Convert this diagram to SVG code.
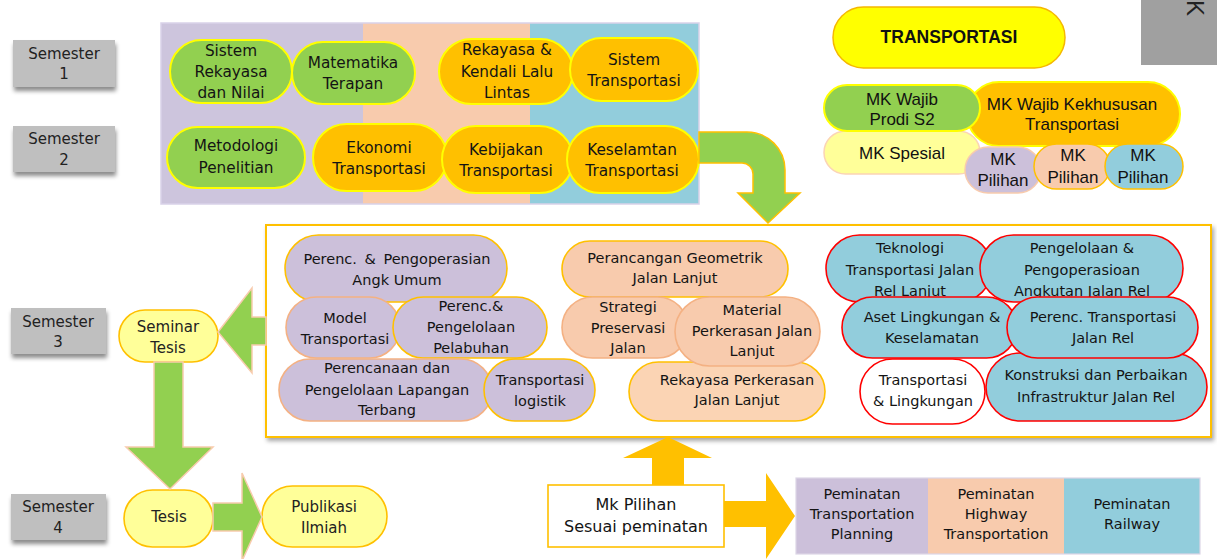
<svg xmlns="http://www.w3.org/2000/svg" width="1217" height="559" viewBox="0 0 1217 559">
<defs>
<style>
.tx{font-family:"DejaVu Sans",Verdana,sans-serif;font-size:14.5px;fill:#141414;text-anchor:middle}
.tt{font-size:15.3px}
.sm{font-family:"DejaVu Sans",Verdana,sans-serif;font-size:15px;fill:#222;text-anchor:middle}
.lg{font-family:"Liberation Sans",Arial,sans-serif;font-size:17px;fill:#111;text-anchor:middle}
.gr{fill:#92d050;stroke:#ffff00;stroke-width:2}
.or{fill:#ffc000;stroke:#ffff00;stroke-width:2}
.pu{fill:#ccc0da}
.pe{fill:#f8cbad}
.bl{fill:#92cddc;stroke:#ff0000;stroke-width:1.6}
.so{stroke:#ffc000;stroke-width:1.6}
.sp{stroke:#f4b183;stroke-width:1.6}
.ly{fill:#ffff99;stroke:#ffc000;stroke-width:1.6}
.sem{fill:#bfbfbf}
.ga{fill:#92d050;stroke:#f8cbad;stroke-width:1.5}
.oa{fill:#ffc000}
</style>
<filter id="sh" x="-10%" y="-10%" width="125%" height="140%"><feDropShadow dx="1" dy="4" stdDeviation="2" flood-color="#000" flood-opacity="0.45"/></filter>
<filter id="sh2" x="-5%" y="-5%" width="110%" height="115%"><feDropShadow dx="2" dy="3" stdDeviation="2" flood-color="#000" flood-opacity="0.35"/></filter>
</defs>
<rect width="1217" height="559" fill="#ffffff"/>

<!-- top right gray box -->
<g id="corner">
<rect x="1141" y="0" width="76" height="65" fill="#a0a0a0"/>
<text transform="translate(1187,0) rotate(90)" style="font-family:'Liberation Sans',Arial,sans-serif;font-size:24px;fill:#222">K</text>
</g>

<!-- semester labels -->
<g id="sem1"><rect class="sem" x="13" y="40" width="102" height="47" filter="url(#sh)"/><text class="sm" x="64" y="59">Semester</text><text class="sm" x="64" y="79">1</text></g>
<g id="sem2"><rect class="sem" x="13" y="126" width="102" height="46" filter="url(#sh)"/><text class="sm" x="64" y="144">Semester</text><text class="sm" x="64" y="165">2</text></g>
<g id="sem3"><rect class="sem" x="11" y="308" width="95" height="46" filter="url(#sh)"/><text class="sm" x="58" y="327">Semester</text><text class="sm" x="58" y="347">3</text></g>
<g id="sem4"><rect class="sem" x="11" y="494" width="95" height="46" filter="url(#sh)"/><text class="sm" x="58" y="512">Semester</text><text class="sm" x="58" y="533">4</text></g>

<!-- top background columns -->
<g id="topbg">
<rect x="161" y="23" width="202" height="181" fill="#cdc5dd"/>
<rect x="363" y="23" width="167" height="181" fill="#f8cbad"/>
<rect x="530" y="23" width="169" height="181" fill="#92cddc"/>
<rect x="161" y="23" width="538" height="181" fill="none" stroke="#d9d2e9" stroke-width="1.5"/>
</g>

<!-- top nodes -->
<g id="n-sistem-rekayasa"><rect class="gr" x="170" y="40" width="122" height="63" rx="31.5"/><text class="tx tt" x="231" y="56">Sistem</text><text class="tx tt" x="231" y="77">Rekayasa</text><text class="tx tt" x="231" y="98">dan Nilai</text></g>
<g id="n-matematika"><rect class="gr" x="292" y="42" width="123" height="62" rx="31"/><text class="tx tt" x="353" y="68">Matematika</text><text class="tx tt" x="353" y="89">Terapan</text></g>
<g id="n-rekayasa-kendali"><rect class="or" x="439" y="39" width="134" height="65" rx="32.5"/><text class="tx tt" x="507" y="55">Rekayasa &amp;</text><text class="tx tt" x="507" y="77">Kendali Lalu</text><text class="tx tt" x="507" y="98">Lintas</text></g>
<g id="n-sistem-transportasi"><rect class="or" x="570" y="38" width="128" height="63" rx="31.5"/><text class="tx tt" x="634" y="65">Sistem</text><text class="tx tt" x="634" y="86">Transportasi</text></g>
<g id="n-metodologi"><rect class="gr" x="167" y="127" width="138" height="61" rx="30.5"/><text class="tx tt" x="236" y="151">Metodologi</text><text class="tx tt" x="236" y="173">Penelitian</text></g>
<g id="n-ekonomi"><rect class="or" x="313" y="124" width="134" height="67" rx="33.5"/><text class="tx tt" x="379" y="153">Ekonomi</text><text class="tx tt" x="379" y="174">Transportasi</text></g>
<g id="n-kebijakan"><rect class="or" x="442" y="126" width="131" height="67" rx="33.5"/><text class="tx tt" x="506" y="155">Kebijakan</text><text class="tx tt" x="506" y="176">Transportasi</text></g>
<g id="n-keselamatan"><rect class="or" x="567" y="126" width="132" height="67" rx="33.5"/><text class="tx tt" x="632" y="155">Keselamtan</text><text class="tx tt" x="632" y="176">Transportasi</text></g>

<!-- legend -->
<g id="legend-transportasi"><rect x="833" y="7" width="232" height="61" rx="30.5" fill="#ffff00" stroke="#f5b800" stroke-width="1.5"/><text x="949" y="43" style="font-family:'Liberation Sans',Arial,sans-serif;font-size:17.5px;font-weight:bold;fill:#111;text-anchor:middle">TRANSPORTASI</text></g>
<g id="legend-kekhususan"><rect class="or" x="967" y="82" width="213" height="64" rx="32"/><text class="lg" x="1072" y="110">MK Wajib Kekhususan</text><text class="lg" x="1072" y="130">Transportasi</text></g>
<g id="legend-spesial"><rect x="824" y="131" width="156" height="43" rx="21.5" fill="#ffff99" stroke="#fbd4b4" stroke-width="1.5"/><text class="lg" x="902" y="159">MK Spesial</text></g>
<g id="legend-prodi"><rect class="gr" x="824" y="85" width="156" height="46" rx="23"/><text class="lg" x="902" y="105">MK Wajib</text><text class="lg" x="902" y="125">Prodi S2</text></g>
<g id="legend-pilihan1"><rect x="965" y="147" width="76" height="46" rx="23" fill="#ccc0da" stroke="#f8cbad" stroke-width="1.5"/><text class="lg" x="1003" y="165">MK</text><text class="lg" x="1003" y="186">Pilihan</text></g>
<g id="legend-pilihan2"><rect x="1034" y="144" width="76" height="45" rx="22.5" fill="#f8cbad" stroke="#ffc000" stroke-width="1.5"/><text class="lg" x="1073" y="161">MK</text><text class="lg" x="1073" y="183">Pilihan</text></g>
<g id="legend-pilihan3"><rect x="1105" y="144" width="78" height="45" rx="22.5" fill="#92cddc" stroke="#ffc000" stroke-width="1.5"/><text class="lg" x="1143" y="161">MK</text><text class="lg" x="1143" y="183">Pilihan</text></g>

<!-- semester 3 box -->
<g id="sem3-box"><rect x="266" y="225" width="945" height="212" fill="#ffffff" stroke="#ffc000" stroke-width="2" filter="url(#sh2)"/></g>

<!-- purple nodes -->
<g id="n-angk-umum"><rect class="pu so" x="285" y="235" width="222" height="67" rx="33.5"/><text class="tx" x="397" y="264" style="word-spacing:3px">Perenc. &amp; Pengoperasian</text><text class="tx" x="397" y="285">Angk Umum</text></g>
<g id="n-model"><rect class="pu sp" x="286" y="297" width="114" height="61" rx="30.5"/><text class="tx" x="345" y="323">Model</text><text class="tx" x="345" y="344">Transportasi</text></g>
<g id="n-pelabuhan"><rect class="pu so" x="393" y="297" width="154" height="61" rx="30.5"/><text class="tx" x="471" y="311">Perenc.&amp;</text><text class="tx" x="471" y="332">Pengelolaan</text><text class="tx" x="471" y="353">Pelabuhan</text></g>
<g id="n-lapangan"><rect class="pu sp" x="279" y="359" width="213" height="62" rx="31"/><text class="tx" x="387" y="373">Perencanaan dan</text><text class="tx" x="387" y="395">Pengelolaan Lapangan</text><text class="tx" x="387" y="415">Terbang</text></g>
<g id="n-logistik"><rect class="pu so" x="484" y="359" width="111" height="62" rx="31"/><text class="tx" x="540" y="385">Transportasi</text><text class="tx" x="540" y="406">logistik</text></g>

<!-- peach nodes -->
<g id="n-geometrik"><rect class="pe so" x="562" y="241" width="226" height="56" rx="28"/><text class="tx" x="675" y="263">Perancangan Geometrik</text><text class="tx" x="675" y="283">Jalan Lanjut</text></g>
<g id="n-strategi"><rect class="pe sp" x="562" y="297" width="126" height="61" rx="30.5"/><text class="tx" x="628" y="312">Strategi</text><text class="tx" x="628" y="333">Preservasi</text><text class="tx" x="628" y="353">Jalan</text></g>
<g id="n-rekayasa-perkerasan"><rect x="629" y="362" width="196" height="59" rx="29.5" fill="#fbd4b4" class="so"/><text class="tx" x="737" y="385">Rekayasa Perkerasan</text><text class="tx" x="737" y="405">Jalan Lanjut</text></g>
<g id="n-material"><rect class="pe sp" x="675" y="297" width="145" height="69" rx="34.5"/><text class="tx" x="752" y="315">Material</text><text class="tx" x="752" y="336">Perkerasan Jalan</text><text class="tx" x="752" y="356">Lanjut</text></g>

<!-- blue nodes -->
<g id="n-teknologi"><rect class="bl" x="826" y="235" width="166" height="67" rx="33.5"/><text class="tx" x="910" y="253">Teknologi</text><text class="tx" x="910" y="275">Transportasi Jalan</text><text class="tx" x="910" y="296">Rel Lanjut</text></g>
<g id="n-angkutan-rel"><rect class="bl" x="980" y="235" width="203" height="67" rx="33.5"/><text class="tx" x="1082" y="253">Pengelolaan &amp;</text><text class="tx" x="1082" y="275">Pengoperasioan</text><text class="tx" x="1082" y="296">Angkutan Jalan Rel</text></g>
<g id="n-konstruksi"><rect class="bl" x="986" y="353" width="221" height="68" rx="34"/><text class="tx" x="1096" y="380">Konstruksi dan Perbaikan</text><text class="tx" x="1096" y="402">Infrastruktur Jalan Rel</text></g>
<g id="n-aset"><rect class="bl" x="842" y="297" width="175" height="61" rx="30.5"/><text class="tx" x="932" y="322">Aset Lingkungan &amp;</text><text class="tx" x="932" y="343">Keselamatan</text></g>
<g id="n-perenc-rel"><rect class="bl" x="1007" y="297" width="191" height="61" rx="30.5"/><text class="tx" x="1103" y="322">Perenc. Transportasi</text><text class="tx" x="1103" y="343">Jalan Rel</text></g>
<g id="n-lingkungan"><rect x="860" y="359" width="125" height="65" rx="32.5" fill="#ffffff" stroke="#ff0000" stroke-width="1.6"/><text class="tx" x="923" y="385">Transportasi</text><text class="tx" x="923" y="406">&amp; Lingkungan</text></g>

<!-- left nodes -->
<g id="n-seminar"><rect class="ly" x="119" y="310" width="99" height="52" rx="26"/><text class="sm" x="168" y="332">Seminar</text><text class="sm" x="168" y="353">Tesis</text></g>
<g id="n-tesis"><rect class="ly" x="124" y="490" width="89" height="57" rx="28.5"/><text class="sm" x="169" y="522">Tesis</text></g>
<g id="n-publikasi"><rect class="ly" x="262" y="486" width="125" height="61" rx="30.5"/><text class="sm" x="324" y="512">Publikasi</text><text class="sm" x="324" y="533">Ilmiah</text></g>

<!-- bottom -->
<g id="n-mk-pilihan"><rect x="548" y="485" width="176" height="62" fill="#ffffff" stroke="#ffc000" stroke-width="1.6"/><text class="tx" style="font-size:16px" x="636" y="510">Mk Pilihan</text><text class="tx" style="font-size:16px" x="636" y="532">Sesuai peminatan</text></g>
<g id="peminatan">
<rect x="796" y="478" width="132" height="76" fill="#ccc0da"/>
<rect x="928" y="478" width="136" height="76" fill="#f8cbad"/>
<rect x="1064" y="478" width="136" height="76" fill="#92cddc"/>
<rect x="796" y="478" width="404" height="76" fill="none" stroke="#dcd6e6" stroke-width="1.2"/>
<text class="tx" x="862" y="499">Peminatan</text><text class="tx" x="862" y="519">Transportation</text><text class="tx" x="862" y="539">Planning</text>
<text class="tx" x="996" y="499">Peminatan</text><text class="tx" x="996" y="519">Highway</text><text class="tx" x="996" y="539">Transportation</text>
<text class="tx" x="1132" y="509">Peminatan</text><text class="tx" x="1132" y="529">Railway</text>
</g>

<!-- connectors -->
<g id="connectors">
<path class="ga" d="M699,132 H747 A38,38 0 0 1 785,170 V193 H800 L768,223 L738,193 H753 V174 A11,11 0 0 0 742,163 H699 Z" style="stroke:#ffc000"/>
<path class="ga" d="M266,317 H252 V288 L218,332 L252,373 V345 H266 Z"/>
<path class="ga" d="M154,362 V447 H126 L170,489 L213,447 H183 V362 Z"/>
<path class="ga" d="M213,503 H242 V473 L262,517 L242,561 V531 H213 Z"/>
<path class="oa" d="M652,485 V458 H623 L668,437 L712,458 H684 V485 Z"/>
<path class="oa" d="M724,501 H766 V473 L795,516 L766,559 V527 H724 Z"/>
</g>
</svg>
